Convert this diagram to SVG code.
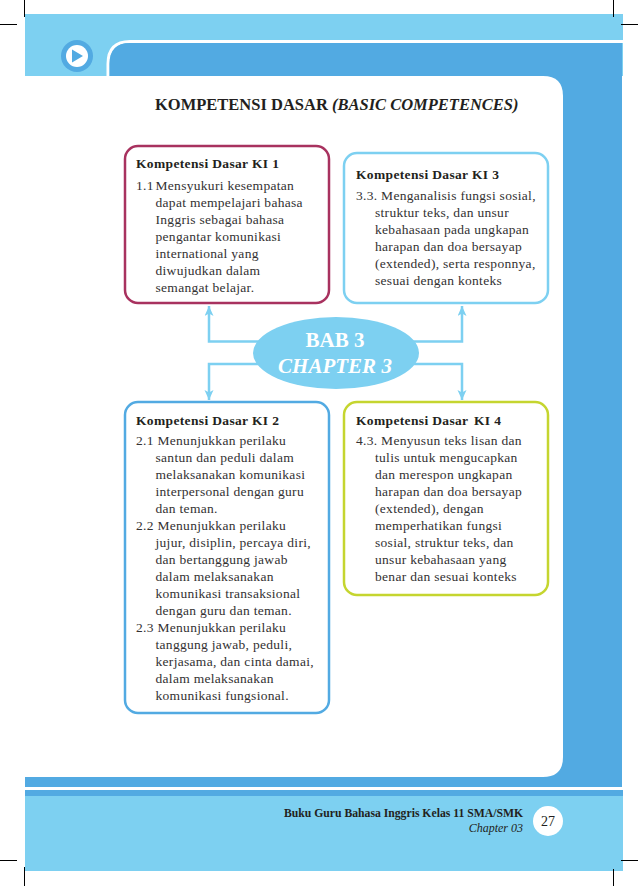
<svg xmlns="http://www.w3.org/2000/svg" width="638" height="886" viewBox="0 0 638 886">
<style>
text{font-family:"Liberation Serif","Times New Roman",serif;fill:#231f20}
.b{font-size:13.500px;font-weight:700;letter-spacing:.35px}
.t{font-size:13.500px;letter-spacing:.3px;fill:#333132}
.box{fill:#fff;stroke-width:2.500}
.crop{stroke:#000;stroke-width:1;fill:none}
.conn{stroke:#7dd0f1;stroke-width:2.500;fill:none}
.head{fill:#7dd0f1}
</style>
<defs><marker id="a" markerUnits="userSpaceOnUse" markerWidth="12" markerHeight="12" refX="10" refY="4.500" orient="auto"><path class="head" d="M0 0L10 4.500L0 9L2.500 4.500Z"/></marker></defs>
<g id="page">
<rect x="25" y="14" width="598" height="62" fill="#7dd0f1"/>
<path d="M108 76V64Q108 41.500 130 41.500H623" fill="none" stroke="#fff" stroke-width="3"/>
<path d="M109.500 76V64Q109.500 43 130 43H622V777H25V76Z" fill="#52aae2"/>
<path d="M25 76H543Q563 76 563 96V757Q563 777 543 777H25Z" fill="#fff"/>
<rect x="25" y="777" width="597" height="10" fill="#52aae2"/>
<rect x="25" y="790" width="598" height="6" fill="#52aae2"/>
<rect x="25" y="796" width="598" height="75" fill="#7dd0f1"/>
<circle cx="77" cy="56" r="16" fill="#52aae2"/><circle cx="77" cy="56" r="11" fill="#fff"/>
<path d="M72 49.500L83 56L72 62.500Z" fill="#52aae2"/>
<path class="crop" d="M24.500 0V17M0 24.500H17M613.500 0V17M621 24.500H638M0 860.500H17M24.500 867V886M621 860.500H638M613.500 869V886"/>
<text x="155" y="110" font-size="16.500" font-weight="700">KOMPETENSI DASAR <tspan font-style="italic">(BASIC COMPETENCES)</tspan></text>
<text x="523" y="817" text-anchor="end" font-size="11.700" font-weight="700">Buku Guru Bahasa Inggris Kelas 11 SMA/SMK</text>
<text x="523" y="832" text-anchor="end" font-size="12" font-style="italic">Chapter 03</text>
<circle cx="548" cy="821" r="15" fill="#fff"/>
<text x="548" y="826" text-anchor="middle" font-size="14">27</text>
</g>
<g id="connectors">
<path class="conn" marker-end="url(#a)" d="M262 341.500H209V306"/>
<path class="conn" marker-end="url(#a)" d="M410 341.500H462V306"/>
<path class="conn" marker-end="url(#a)" d="M262 364H209V400"/>
<path class="conn" marker-end="url(#a)" d="M410 364H462V400"/>
</g>
<g id="center">
<ellipse cx="336" cy="353" rx="83" ry="36" fill="#7dd0f1"/>
<text x="335" y="347" text-anchor="middle" font-size="21" font-weight="700" style="fill:#fff">BAB 3</text>
<text x="335" y="373" text-anchor="middle" font-size="21" font-weight="700" font-style="italic" style="fill:#fff">CHAPTER 3</text>
</g>
<g id="ki1">
<rect class="box" x="125" y="146" width="204" height="157" rx="13" stroke="#a8325f"/>
<text class="b" x="136" y="168">Kompetensi Dasar KI 1</text>
<text class="t" x="136" y="190">1.1</text>
<text class="t" x="155.500" y="190">Mensyukuri kesempatan</text>
<text class="t" x="155.500" y="207">dapat mempelajari bahasa</text>
<text class="t" x="155.500" y="224">Inggris sebagai bahasa</text>
<text class="t" x="155.500" y="241">pengantar komunikasi</text>
<text class="t" x="155.500" y="258">international yang</text>
<text class="t" x="155.500" y="275">diwujudkan dalam</text>
<text class="t" x="155.500" y="292">semangat belajar.</text>
</g>
<g id="ki3">
<rect class="box" x="344" y="153" width="204" height="150" rx="13" stroke="#7dd0f1"/>
<text class="b" x="356" y="179">Kompetensi Dasar KI 3</text>
<text class="t" x="356" y="200">3.3. Menganalisis fungsi sosial,</text>
<text class="t" x="375" y="217">struktur teks, dan unsur</text>
<text class="t" x="375" y="234">kebahasaan pada ungkapan</text>
<text class="t" x="375" y="251">harapan dan doa bersayap</text>
<text class="t" x="375" y="268">(extended), serta responnya,</text>
<text class="t" x="375" y="285">sesuai dengan konteks</text>
</g>
<g id="ki2">
<rect class="box" x="125" y="402" width="204" height="311" rx="13" stroke="#52aae2"/>
<text class="b" x="136" y="425">Kompetensi Dasar KI 2</text>
<text class="t" x="136" y="445">2.1 Menunjukkan perilaku</text>
<text class="t" x="155.500" y="462">santun dan peduli dalam</text>
<text class="t" x="155.500" y="479">melaksanakan komunikasi</text>
<text class="t" x="155.500" y="496">interpersonal dengan guru</text>
<text class="t" x="155.500" y="513">dan teman.</text>
<text class="t" x="136" y="530">2.2 Menunjukkan perilaku</text>
<text class="t" x="155.500" y="547">jujur, disiplin, percaya diri,</text>
<text class="t" x="155.500" y="564">dan bertanggung jawab</text>
<text class="t" x="155.500" y="581">dalam melaksanakan</text>
<text class="t" x="155.500" y="598">komunikasi transaksional</text>
<text class="t" x="155.500" y="615">dengan guru dan teman.</text>
<text class="t" x="136" y="632">2.3 Menunjukkan perilaku</text>
<text class="t" x="155.500" y="649">tanggung jawab, peduli,</text>
<text class="t" x="155.500" y="666">kerjasama, dan cinta damai,</text>
<text class="t" x="155.500" y="683">dalam melaksanakan</text>
<text class="t" x="155.500" y="700">komunikasi fungsional.</text>
</g>
<g id="ki4">
<rect class="box" x="344" y="402" width="204" height="193" rx="13" stroke="#c5d52f"/>
<text class="b" x="356" y="425">Kompetensi Dasar <tspan dx="2">KI 4</tspan></text>
<text class="t" x="356" y="445">4.3. Menyusun teks lisan dan</text>
<text class="t" x="375" y="462">tulis untuk mengucapkan</text>
<text class="t" x="375" y="479">dan merespon ungkapan</text>
<text class="t" x="375" y="496">harapan dan doa bersayap</text>
<text class="t" x="375" y="513">(extended), dengan</text>
<text class="t" x="375" y="530">memperhatikan fungsi</text>
<text class="t" x="375" y="547">sosial, struktur teks, dan</text>
<text class="t" x="375" y="564">unsur kebahasaan yang</text>
<text class="t" x="375" y="581">benar dan sesuai konteks</text>
</g>
</svg>
